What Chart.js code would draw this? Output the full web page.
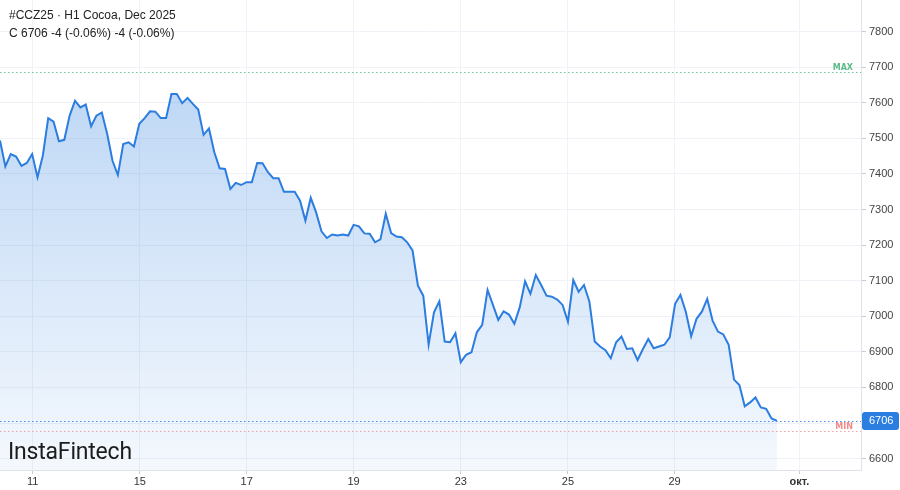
<!DOCTYPE html>
<html>
<head>
<meta charset="utf-8">
<script src="https://cdn.jsdelivr.net/npm/chart.js@4"></script>
<style>
  html, body { margin: 0; padding: 0; background: #fff; }
  #wrap { position: relative; width: 900px; height: 490px; }
  #title { position: absolute; left: 9px; top: 6px; font: 12px "Liberation Sans", Arial, sans-serif; color: #222; line-height: 18px; }
  #logo { position: absolute; left: 8px; top: 438px; font: 400 23px Roboto, sans-serif; color: #1c1c1c; letter-spacing: -0.2px; }
</style>
</head>
<body>
<div id="wrap">
  <canvas id="myChart" width="900" height="490"></canvas>
  <div id="title">#CCZ25 · H1 Cocoa, Dec 2025<br>C 6706 -4 (-0.06%) -4 (-0.06%)</div>
  <div id="logo">InstaFintech</div>
</div>
<script>
// hourly closes
var closes = [
  7494, 7421, 7456, 7449, 7423, 7431, 7456, 7391, 7452, 7557,
  7547, 7492, 7496, 7564, 7606, 7587, 7595, 7534, 7564, 7573,
  7513, 7437, 7397, 7484, 7489, 7477, 7541, 7557, 7576, 7575,
  7557, 7557, 7625, 7625, 7599, 7614, 7597, 7581, 7510, 7528,
  7461, 7416, 7414, 7358, 7375, 7369, 7377, 7377, 7431, 7430,
  7405, 7388, 7388, 7350, 7350, 7350, 7325, 7269, 7333,
  7292, 7239, 7220, 7230, 7227, 7230, 7227, 7257, 7253, 7233,
  7232, 7208, 7216, 7288, 7234, 7224, 7222, 7208, 7185, 7086,
  7058, 6920, 7011, 7042, 6929, 6927, 6952, 6871, 6892,
  6899, 6955, 6976, 7074, 7032, 6990, 7014, 7005, 6979, 7025,
  7098, 7063, 7116, 7088, 7058, 7055, 7047, 7032, 6985, 7102,
  7069, 7088, 7042, 6929, 6915, 6905, 6882, 6927, 6943,
  6908, 6910, 6877, 6908, 6936, 6910, 6915, 6920, 6941, 7035,
  7060, 7013, 6944, 6993, 7013, 7049, 6988, 6957, 6949, 6920,
  6822, 6807, 6747, 6758, 6772, 6744, 6740, 6713, 6706
];

var dayLabels = ["11", "15", "17", "19", "23", "25", "29", "окт."];
var dayTicks = [6.1, 26.1, 46.05, 66, 86, 106, 125.9, 149.2];
var priceTicks = [6600, 6700, 6800, 6900, 7000, 7100, 7200, 7300, 7400, 7500, 7600, 7700, 7800];

var lastPrice = 6706;
var maxLevel = 7688;
var minLevel = 6679;

var lineColor = "#2b7ddf";
var gridColor = "#f0f2f7";

var levelsPlugin = {
    id: "levels",
    afterDatasetsDraw(chart) {
        var c = chart.ctx;
        var area = chart.chartArea;
        var y = chart.scales.y;
        function dotted(v, color) {
            var py = Math.round(y.getPixelForValue(v)) + 0.5;
            c.save();
            c.strokeStyle = color;
            c.lineWidth = 1;
            c.setLineDash([1.5, 2.5]);
            c.beginPath();
            c.moveTo(area.left, py);
            c.lineTo(area.right, py);
            c.stroke();
            c.restore();
            return py;
        }
        var pyMax = dotted(maxLevel, "#6cc596");
        var pyMin = dotted(minLevel, "#f4a3a3");
        dotted(lastPrice, "#4a90e2");

        c.save();
        c.font = "bold 8px 'DejaVu Sans', sans-serif";
        c.textAlign = "right";
        c.textBaseline = "bottom";
        c.fillStyle = "#5cbb88";
        c.fillText("MAX", area.right - 8, pyMax - 1);
        c.fillStyle = "#f28a8a";
        c.fillText("MIN", area.right - 8, pyMin - 1);
        c.restore();
    },
    afterDraw(chart) {
        var c = chart.ctx;
        var y = chart.scales.y;
        var py = y.getPixelForValue(lastPrice);
        var x0 = chart.chartArea.right + 1;
        c.save();
        c.fillStyle = lineColor;
        c.beginPath();
        c.roundRect(x0, py - 9, 37, 18, 3);
        c.fill();
        c.fillStyle = "#fff";
        c.font = "11px 'Liberation Sans', Arial, sans-serif";
        c.textBaseline = "middle";
        c.textAlign = "left";
        c.fillText(String(lastPrice), x0 + 7, py + 0.5);
        c.restore();
    }
};

var ctx = document.querySelector("#myChart").getContext("2d");

new Chart(ctx, {
    type: "line",
    data: {
        datasets: [{
            data: closes.map((v, i) => ({ x: i, y: v })),
            borderColor: lineColor,
            borderWidth: 2,
            pointRadius: 0,
            tension: 0,
            fill: "start",
            backgroundColor: (context) => {
                var area = context.chart.chartArea;
                if (!area) return "rgba(43,125,223,0.2)";
                var g = context.chart.ctx.createLinearGradient(0, area.top, 0, area.bottom);
                g.addColorStop(0, "rgba(43,125,223,0.36)");
                g.addColorStop(1, "rgba(43,125,223,0.05)");
                return g;
            },
        }],
    },
    options: {
        responsive: false,
        animation: false,
        layout: { padding: 0 },
        plugins: {
            legend: { display: false },
            tooltip: { enabled: false },
        },
        scales: {
            x: {
                type: "linear",
                min: 0,
                max: 160.7,
                afterBuildTicks: (axis) => {
                    axis.ticks = dayTicks.map((v) => ({ value: v }));
                },
                afterFit: (axis) => {
                    axis.height = 20;
                    axis.paddingLeft = 0;
                    axis.paddingRight = 0;
                },
                grid: { color: gridColor, tickLength: 4, tickColor: "#c9ccd3" },
                border: { color: "#e0e3ea" },
                ticks: {
                    autoSkip: false,
                    maxRotation: 0,
                    padding: 1,
                    color: "#333",
                    font: (c) => ({
                        family: "'Liberation Sans', Arial, sans-serif",
                        size: 11,
                        weight: c.index === 7 ? "bold" : "normal",
                    }),
                    callback: (v, i) => dayLabels[i],
                },
            },
            y: {
                position: "right",
                min: 6568,
                max: 7889,
                afterBuildTicks: (axis) => {
                    axis.ticks = priceTicks.map((v) => ({ value: v }));
                },
                afterFit: (axis) => {
                    axis.width = 39;
                    axis.paddingTop = 0;
                    axis.paddingBottom = 0;
                },
                grid: { color: gridColor, tickLength: 5, tickColor: "#c9ccd3" },
                border: { color: "#e0e3ea" },
                ticks: {
                    padding: 3,
                    color: "#444",
                    font: { family: "'Liberation Sans', Arial, sans-serif", size: 11 },
                    callback: (v) => String(v),
                },
            },
        },
    },
    plugins: [levelsPlugin],
});
</script>
</body>
</html>
